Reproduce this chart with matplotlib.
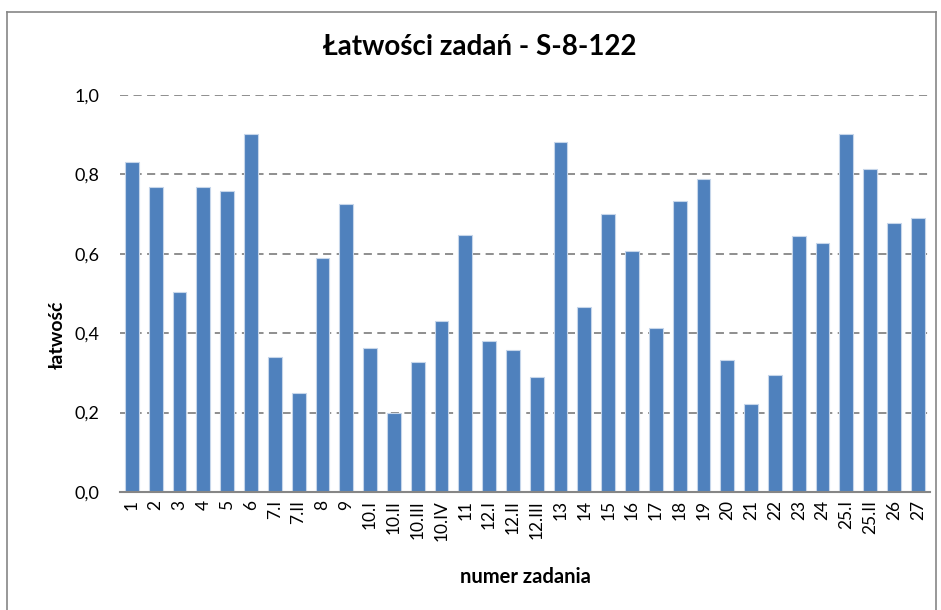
import numpy as np
import matplotlib.pyplot as plt
from matplotlib.lines import Line2D

plt.rcParams['font.family'] = ['Lato', 'DejaVu Sans']

# numery zadań i ich łatwości
zadania = ["1", "2", "3", "4", "5", "6", "7.I", "7.II", "8", "9",
           "10.I", "10.II", "10.III", "10.IV", "11", "12.I", "12.II", "12.III",
           "13", "14", "15", "16", "17", "18", "19", "20", "21", "22",
           "23", "24", "25.I", "25.II", "26", "27"]
latwosc = [0.830, 0.767, 0.505, 0.767, 0.758, 0.902, 0.339, 0.250, 0.589, 0.725,
           0.364, 0.200, 0.327, 0.432, 0.648, 0.381, 0.357, 0.289,
           0.882, 0.467, 0.699, 0.606, 0.412, 0.734, 0.788, 0.332, 0.222, 0.294,
           0.645, 0.627, 0.902, 0.813, 0.678, 0.691]
y_ticks = [0.0, 0.2, 0.4, 0.6, 0.8, 1.0]

fig = plt.figure(figsize=(9.41, 6.10), dpi=100)
ax = fig.add_axes([0.1275, 0.1934, 0.8605, 0.6509])

x = np.arange(len(zadania))
ax.bar(x, latwosc, width=0.58, color="#4F81BD", edgecolor="#C6D6EA",
       linewidth=0.8, zorder=3)

ax.set_xlim(-0.5, len(zadania) - 0.5)
ax.set_ylim(0, 1.0)
ax.set_yticks(y_ticks)
ax.set_yticklabels([f"{v:.1f}".replace(".", ",") for v in y_ticks], fontsize=13)
ax.set_xticks(x)
ax.set_xticklabels(zadania, rotation=90, fontsize=12.5)
ax.tick_params(axis="y", length=0, pad=15)
ax.tick_params(axis="x", length=0, pad=6)

ax.yaxis.grid(True, color="#868686", linestyle=(0, (4.5, 3)), linewidth=1.3, zorder=0)
for s in ["left", "right", "top"]:
    ax.spines[s].set_visible(False)
ax.spines["bottom"].set_color("#868686")
ax.spines["bottom"].set_linewidth(1.5)
ax.spines["bottom"].set_zorder(4)

fig.text(57 / 941, 1 - 335 / 610, "łatwość", fontsize=14, fontweight="bold",
         rotation=90, ha="center", va="center")
fig.text(525 / 941, 1 - 577 / 610, "numer zadania", fontsize=14.5,
         fontweight="bold", ha="center", va="center")
fig.text(480 / 941, 1 - 47 / 610, "Łatwości zadań - S-8-122", fontsize=20,
         fontweight="bold", ha="center", va="center")

# ramka wykresu
bx0, bx1, by0, by1 = 7 / 941, 936 / 941, 1 - 12 / 610, 0.0
for xs, ys in [([bx0, bx0], [by1, by0]), ([bx0, bx1], [by0, by0]),
               ([bx1, bx1], [by0, by1])]:
    fig.add_artist(Line2D(xs, ys, color="#868686", linewidth=1.2))

fig.savefig("out.png", dpi=100)
